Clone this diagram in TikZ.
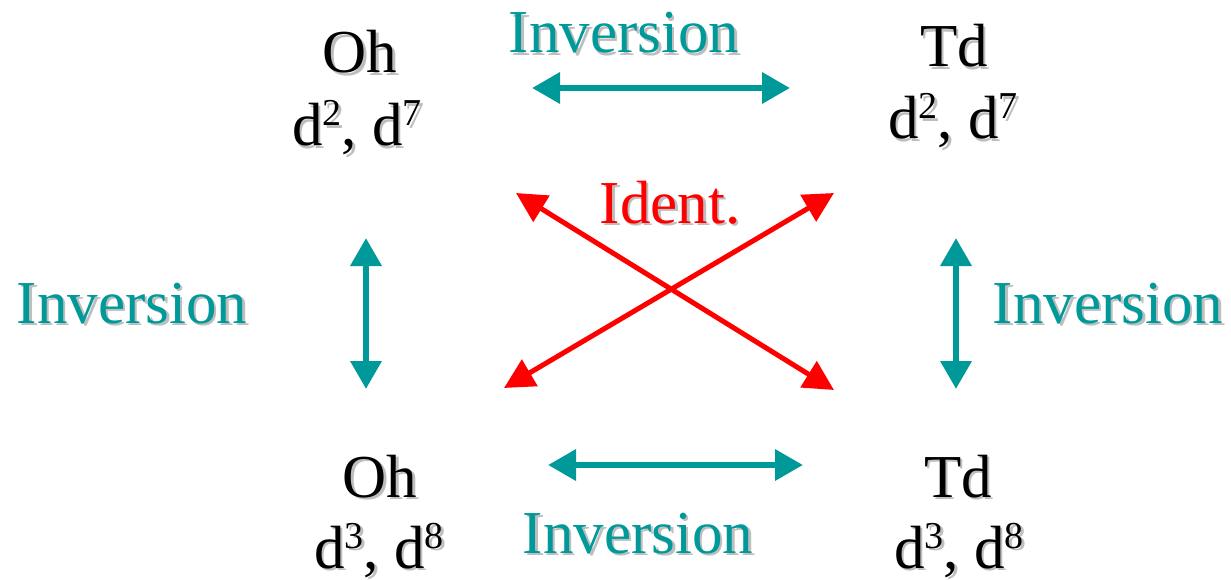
\documentclass[tikz,border=0pt]{standalone}
\usepackage{fontspec}
\setmainfont{Liberation Serif}
\usetikzlibrary{arrows.meta}
\definecolor{teal1}{RGB}{0,153,153}
\definecolor{red1}{RGB}{255,0,0}
\definecolor{shadowgray}{RGB}{190,190,190}
\newcommand{\shd}[1]{\rlap{\kern2.5pt\raisebox{-2.5pt}{\textcolor{shadowgray}{#1}}}#1}
\newcommand{\sps}[1]{\raisebox{20pt}{\fontsize{38}{38}\selectfont #1}}
\begin{document}
\begin{tikzpicture}[x=1pt,y=-1pt,
  lbl/.style={anchor=base,inner sep=0pt,font=\fontsize{61}{70}\selectfont},
  blk/.style={lbl,text=black},
  tl/.style={lbl,text=teal1},
  rl/.style={lbl,text=red1},
  tarrow/.style={draw=teal1,line width=6.5pt,{Triangle[length=28pt,width=30pt]}-{Triangle[length=28pt,width=30pt]}},
  rarrow/.style={draw=red1,line width=5pt,{Triangle[length=30pt,width=30pt]}-{Triangle[length=30pt,width=30pt]}}
]
\useasboundingbox (0,0) rectangle (1231,580);
% labels
\node[blk] (oh1) at (360,73) {\shd{Oh}};
\node[blk] (oh1d) at (357,146) {\shd{d\sps{2}, d\sps{7}}};
\node[blk] (td1) at (954,67) {\shd{Td}};
\node[blk] (td1d) at (953,139) {\shd{d\sps{2}, d\sps{7}}};
\node[blk] (oh2) at (380,497) {\shd{Oh}};
\node[blk] (oh2d) at (379,568) {\shd{d\sps{3}, d\sps{8}}};
\node[blk] (td2) at (958,497) {\shd{Td}};
\node[blk] (td2d) at (959,568) {\shd{d\sps{3}, d\sps{8}}};
\node[tl] (invt) at (624,53) {\shd{Inversion}};
\node[tl] (invl) at (132,323) {\shd{Inversion}};
\node[tl] (invr) at (1108,323) {\shd{Inversion}};
\node[tl] (invb) at (638,553) {\shd{Inversion}};
\node[rl] (ident) at (670,223) {\shd{Ident.}};
% arrow end points
\coordinate (at1) at (532,88);
\coordinate (at2) at (790,88);
\coordinate (ab1) at (548,465);
\coordinate (ab2) at (803,465);
\coordinate (al1) at (366,238);
\coordinate (al2) at (366,389);
\coordinate (ar1) at (956,238);
\coordinate (ar2) at (956,389);
\coordinate (x1) at (516,193);
\coordinate (x2) at (834,390);
\coordinate (y1) at (834,193);
\coordinate (y2) at (504,388);
\draw[tarrow] (at1) -- (at2);
\draw[tarrow] (ab1) -- (ab2);
\draw[tarrow] (al1) -- (al2);
\draw[tarrow] (ar1) -- (ar2);
\draw[rarrow] (x1) -- (x2);
\draw[rarrow] (y1) -- (y2);
\end{tikzpicture}
\end{document}
